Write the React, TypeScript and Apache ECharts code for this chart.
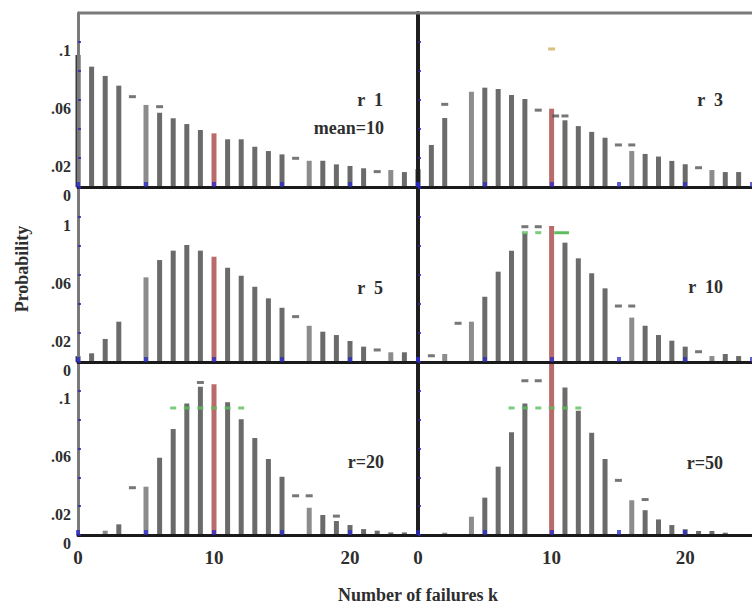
import React, { useEffect, useRef } from "react";
import * as echarts from "echarts";

// number of failures k
const K_VALUES = [0, 1, 2, 3, 4, 5, 6, 7, 8, 9, 10, 11, 12, 13, 14, 15, 16, 17, 18, 19, 20, 21, 22, 23, 24];
const MEAN_K = 10;

// bar heights (null = bar not drawn)
const R1_PROB = [0.091, 0.083, 0.0766, 0.0699, null, 0.0566, 0.0512, 0.0474, 0.0434, 0.0393, 0.037, 0.0329, 0.0329, 0.0278, 0.0248, 0.0225, null, 0.0181, 0.0181, 0.0156, 0.0145, 0.0129, null, 0.0117, 0.0103];
const R3_PROB = [0.0123, 0.029, 0.0476, null, 0.0657, 0.0685, 0.0676, 0.0634, 0.0607, null, 0.054, 0.046, 0.042, 0.038, 0.034, null, 0.0248, 0.0228, 0.021, 0.018, 0.0157, null, 0.0117, 0.0103, 0.0103];
const R5_PROB = [0.004, 0.006, 0.0159, 0.0278, null, 0.0584, 0.0703, 0.0768, 0.0807, 0.0768, 0.0726, 0.065, 0.0595, 0.0519, 0.0439, 0.0374, null, 0.025, 0.0209, 0.0186, 0.0145, 0.0106, null, 0.0067, 0.0067];
const R10_PROB = [null, null, 0.0055, null, 0.0278, 0.045, 0.0623, 0.0768, 0.0887, null, 0.0938, 0.0823, 0.0715, 0.0612, 0.0508, null, 0.0306, 0.025, 0.0186, 0.0147, 0.0106, null, 0.0041, 0.0055, 0.0041];
const R20_PROB = [null, null, 0.003, 0.0074, null, 0.0335, 0.0536, 0.0735, 0.0913, 0.1028, 0.1045, 0.0921, 0.0803, 0.0672, 0.0527, 0.0404, null, 0.0189, 0.0139, 0.0097, 0.0069, 0.0041, 0.003, 0.0018, 0.0018];
const R50_PROB = [null, null, 0.0016, null, 0.0127, 0.0259, 0.0474, 0.0712, 0.0913, null, 0.119, 0.1023, 0.0862, 0.0709, 0.0527, null, 0.0241, 0.0172, 0.0108, 0.0069, 0.004, 0.0028, 0.0028, 0.0016, null];

// short dash marks [k, probability]
const R1_DASH = [[4, 0.0623], [6, 0.0554], [16, 0.0198], [22, 0.0106]];
const R3_DASH = [[2, 0.057], [9, 0.053], [10.3, 0.049], [11, 0.049], [15, 0.029], [16, 0.029], [21, 0.0133]];
const R5_DASH = [[16, 0.0313], [22, 0.0083]];
const R10_DASH = [[1, 0.0043], [3, 0.0267], [8, 0.0933], [9, 0.0933], [15, 0.0386], [16, 0.0386], [21, 0.0071]];
const R20_DASH = [[4, 0.0328], [9, 0.1058], [16, 0.0272], [17, 0.0272], [19, 0.0131]];
const R50_DASH = [[8, 0.107], [9, 0.107], [15, 0.0379], [17, 0.0246]];

const R3_GOLD = [[10, 0.0952]];
const R10_GREEN = [[8, 0.0892], [9, 0.0892]];
const R10_GREEN_SEGMENT = [[10.2, 0.0892], [11.3, 0.0892]];
const R20_GREEN = [[7, 0.0881], [8, 0.0881], [9, 0.0881], [10, 0.0881], [11, 0.0881], [12, 0.0881]];
const R50_GREEN = [[7, 0.0881], [8, 0.0881], [9, 0.0881], [10, 0.0881], [11, 0.0881], [12, 0.0881]];

const PANEL_LABELS = ["r  1", "r  3", "r  5", "r  10", "r=20", "r=50"];
const MEAN_LABEL = "mean=10";
const X_LABELS: Record<number, string> = { 0: "0", 10: "10", 20: "20" };
const Y_LABELS: Record<number, string> = { 0: "0", 2: ".02", 6: ".06", 10: ".1" };
const Y_LABELS_MID: Record<number, string> = { 0: "0", 2: ".02", 6: ".06", 10: "1" };
const X_TITLE = "Number of failures k";
const Y_TITLE = "Probability";

const PROBS = [R1_PROB, R3_PROB, R5_PROB, R10_PROB, R20_PROB, R50_PROB];
const DASHES = [R1_DASH, R3_DASH, R5_DASH, R10_DASH, R20_DASH, R50_DASH];
const GREENS = [[], [], [], R10_GREEN, R20_GREEN, R50_GREEN];

// layout (pixels)
const COL_LEFT = [78, 418];
const ROW_TOP = [13, 188, 362];
const ROW_H = [174, 174, 173];
const PANEL_W = 340;

const FONT = "'Liberation Serif', 'DejaVu Serif', serif";
const INK = "#2e2e2e";

export default function App() {
  const ref = useRef<HTMLDivElement>(null);
  useEffect(() => {
    if (!ref.current) return;
    const chart = echarts.init(ref.current, undefined, { renderer: "svg" });
    const grids: any[] = [];
    const xAxes: any[] = [];
    const yAxes: any[] = [];
    const series: any[] = [];
    for (let i = 0; i < 6; i++) {
      const row = Math.floor(i / 2);
      const col = i % 2;
      grids.push({ left: COL_LEFT[col], top: ROW_TOP[row], width: PANEL_W, height: ROW_H[row], containLabel: false });
      xAxes.push({
        type: "value", gridIndex: i, min: 0, max: 25, interval: 5, z: 5,
        axisLine: { show: true, onZero: false, lineStyle: { color: "#1a1a1a", width: 3 } },
        axisTick: { show: true, inside: true, length: 5, lineStyle: { color: "rgba(40,40,200,0.75)", width: 4 } },
        splitLine: { show: false },
        axisLabel: {
          show: row === 2, margin: 13, showMaxLabel: false,
          fontFamily: FONT, fontWeight: "bold", fontSize: 19, color: INK,
          formatter: (v: number) => X_LABELS[Math.round(v)] ?? "",
        },
      });
      const labels = row === 1 ? Y_LABELS_MID : Y_LABELS;
      yAxes.push({
        type: "value", gridIndex: i, min: 0, max: 0.12, interval: 0.02, z: 5,
        axisLine: { show: true, onZero: false, lineStyle: { color: col === 0 ? "#7a7a7a" : "#1e1e1e", width: col === 0 ? 3 : 4 } },
        axisTick: { show: true, inside: true, length: 3, lineStyle: { color: "rgba(40,40,170,0.8)", width: 2 } },
        splitLine: { show: false },
        axisLabel: {
          show: col === 0, margin: 7, verticalAlign: "top", showMaxLabel: true,
          fontFamily: FONT, fontWeight: "bold", fontSize: 16, color: INK,
          formatter: (v: number) => labels[Math.round(v * 100)] ?? "",
        },
      });
      const probs = PROBS[i];
      const barData: any[] = [];
      K_VALUES.forEach((k, j) => {
        const p = probs[j];
        if (p === null) return;
        let color = "#6b6b6b";
        if (k === 0) color = "#3a3a3a";
        else if (k === MEAN_K) color = "#b96b6b";
        else if (probs[j - 1] === null) color = "#8c8c8c";
        barData.push({ value: [k, p], itemStyle: { color } });
      });
      series.push({ type: "bar", xAxisIndex: i, yAxisIndex: i, barWidth: 5, data: barData, z: 2 });
      series.push({
        type: "scatter", xAxisIndex: i, yAxisIndex: i, symbol: "rect", symbolSize: [7, 3],
        itemStyle: { color: "#555" }, data: DASHES[i], z: 3,
      });
      if (GREENS[i].length) {
        series.push({
          type: "scatter", xAxisIndex: i, yAxisIndex: i, symbol: "rect", symbolSize: [6, 3],
          itemStyle: { color: "#5cbf5c" }, data: GREENS[i], z: 4,
        });
      }
      if (i === 1) {
        series.push({
          type: "scatter", xAxisIndex: i, yAxisIndex: i, symbol: "rect", symbolSize: [7, 3],
          itemStyle: { color: "#cdb060" }, data: R3_GOLD, z: 4,
        });
      }
      if (i === 3) {
        series.push({
          type: "line", xAxisIndex: i, yAxisIndex: i, symbol: "none",
          lineStyle: { color: "#5cbf5c", width: 3 }, data: R10_GREEN_SEGMENT, z: 4,
        });
      }
    }
    const txt = (text: string, x: number, y: number, align: string, size = 18, extra: any = {}) => ({
      type: "text", x, y, z: 10,
      style: { text, fontFamily: FONT, fontWeight: "bold", fontSize: size, fill: INK, align, verticalAlign: "middle" },
      ...extra,
    });
    const graphic: any[] = [
      { type: "line", z: 6, shape: { x1: 78, y1: 13, x2: 752, y2: 13 }, style: { stroke: "#7a7a7a", lineWidth: 3 } },
      txt(PANEL_LABELS[0], 383, 100, "right"),
      txt(MEAN_LABEL, 384, 128, "right"),
      txt(PANEL_LABELS[1], 723, 100, "right"),
      txt(PANEL_LABELS[2], 383, 288, "right"),
      txt(PANEL_LABELS[3], 723, 287, "right"),
      txt(PANEL_LABELS[4], 384, 462, "right"),
      txt(PANEL_LABELS[5], 723, 463, "right"),
      txt(X_TITLE, 418, 595, "center", 18),
      txt(Y_TITLE, 22, 269, "center", 18, { rotation: Math.PI / 2 }),
    ];
    chart.setOption({
      animation: false,
      backgroundColor: "#ffffff",
      grid: grids,
      xAxis: xAxes,
      yAxis: yAxes,
      series,
      graphic,
    });
    return () => chart.dispose();
  }, []);
  return <div ref={ref} style={{ position: "fixed", left: 0, top: 0, width: 752, height: 606 }} />;
}
